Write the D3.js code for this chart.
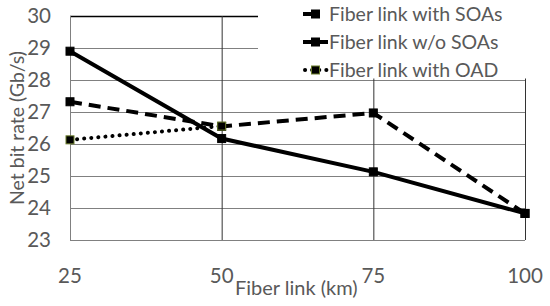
<!DOCTYPE html>
<html>
<head>
<script src="https://d3js.org/d3.v7.min.js"></script>
<style>
  body { margin: 0; background: white; }
  text { font-family: Lato, "Open Sans", sans-serif; fill: #595959; }
</style>
</head>
<body>
<div id="chart"></div>
<script>
var distances = [25, 50, 75, 100];
var withSOAs = [27.32, 26.55, 26.97, 23.83];
var withoutSOAs = [28.9, 26.17, 25.13, 23.83];
var withOAD = [26.13, 26.56];
var yTicks = [23, 24, 25, 26, 27, 28, 29, 30];
var seriesNames = ["Fiber link with SOAs", "Fiber link w/o SOAs", "Fiber link with OAD"];

var width = 550, height = 306;
var svg = d3.select("#chart").append("svg")
  .attr("width", width).attr("height", height);

var x = d3.scaleLinear().domain([25, 100]).range([70, 525]);
var y = d3.scaleLinear().domain([23, 30]).range([240, 16]);

// grid
svg.selectAll(".hgrid").data(yTicks).enter().append("line")
  .attr("x1", x(25)).attr("x2", x(100))
  .attr("y1", function(d){ return y(d) + 0.5; })
  .attr("y2", function(d){ return y(d) + 0.5; })
  .attr("stroke", function(d){ return d == 30 ? "#000" : "#808080"; })
  .attr("stroke-width", function(d){ return d == 30 ? 1.5 : 1; });

svg.selectAll(".vgrid").data(distances).enter().append("line")
  .attr("x1", function(d){ return x(d) + 0.5; })
  .attr("x2", function(d){ return x(d) + 0.5; })
  .attr("y1", y(30)).attr("y2", y(23))
  .attr("stroke", function(d){ return d == 25 ? "#808080" : "#333"; })
  .attr("stroke-width", 1);

// legend background hides grid top-right
svg.append("rect").attr("x", 258).attr("y", 0).attr("width", 292).attr("height", 78.5)
  .attr("fill", "white");

// tick labels
svg.selectAll(".ytick").data(yTicks).enter().append("text")
  .attr("x", 51).attr("y", function(d){ return y(d) + 7; })
  .attr("text-anchor", "end").attr("font-size", 20.5)
  .text(function(d){ return d; });

svg.selectAll(".xtick").data(distances).enter().append("text")
  .attr("x", function(d){ return x(d); }).attr("y", 283)
  .attr("text-anchor", "middle").attr("font-size", 20.5)
  .text(function(d){ return d; });

svg.append("text").attr("x", 235).attr("y", 295).attr("font-size", 20)
  .text("Fiber link (km)");

svg.append("text")
  .attr("transform", "translate(24," + 128 + ") rotate(-90)")
  .attr("text-anchor", "middle").attr("font-size", 19.5)
  .text("Net bit rate (Gb/s)");

var line = d3.line()
  .x(function(d, i){ return x(distances[i]); })
  .y(function(d){ return y(d); });

var styles = [
  { data: withSOAs, dash: "12,7", cap: "butt", marker: "#000" },
  { data: withoutSOAs, dash: null, cap: "butt", marker: "#000" },
  { data: withOAD, dash: "0.1,7", cap: "round", marker: "#6b7d2b" }
];

styles.forEach(function(s){
  svg.append("path").datum(s.data)
    .attr("d", line)
    .attr("fill", "none")
    .attr("stroke", "#000")
    .attr("stroke-width", 4)
    .attr("stroke-linecap", s.cap)
    .attr("stroke-dasharray", s.dash);
});

styles.forEach(function(s){
  svg.selectAll(null).data(s.data).enter().append("rect")
    .attr("x", function(d, i){ return x(distances[i]) - 4; })
    .attr("y", function(d){ return y(d) - 4; })
    .attr("width", 8).attr("height", 8)
    .attr("fill", "#000")
    .attr("stroke", s.marker).attr("stroke-width", 1);
});

// legend
var legend = svg.selectAll(".leg").data(seriesNames).enter().append("g")
  .attr("transform", function(d, i){ return "translate(303," + (14 + i * 28) + ")"; });

legend.append("line")
  .attr("x1", function(d, i){ return i == 2 ? 2 : 0; }).attr("x2", 25)
  .attr("y1", 0).attr("y2", 0)
  .attr("stroke", "#000").attr("stroke-width", 4)
  .attr("stroke-linecap", function(d, i){ return styles[i].cap; })
  .attr("stroke-dasharray", function(d, i){ return styles[i].dash == null ? null : (i == 0 ? "9,3,1,12" : "0.1,7"); });

legend.append("rect")
  .attr("x", 8.5).attr("y", -4).attr("width", 8).attr("height", 8)
  .attr("fill", "#000")
  .attr("stroke", function(d, i){ return styles[i].marker; });

legend.append("text")
  .attr("x", 26).attr("y", 7).attr("font-size", 19.5)
  .text(function(d){ return d; });
</script>
</body>
</html>
